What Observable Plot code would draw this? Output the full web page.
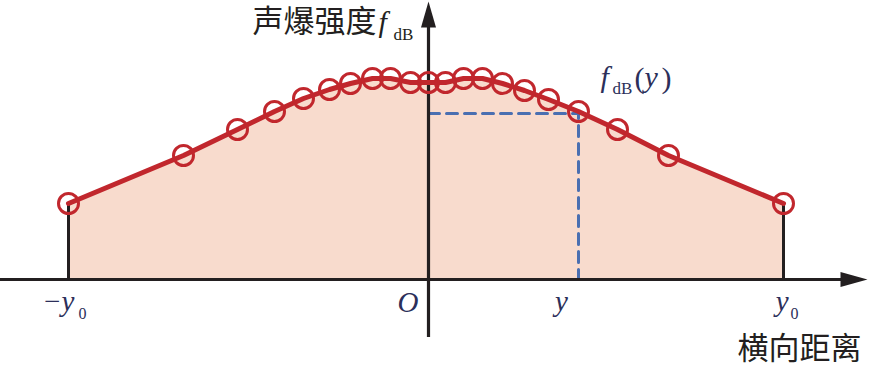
<!DOCTYPE html>
<html>
<head>
<meta charset="utf-8">
<script src="https://cdn.jsdelivr.net/npm/d3@7"></script>
<script src="https://cdn.jsdelivr.net/npm/@observablehq/plot@0.6"></script>
<style>
  html, body { margin: 0; padding: 0; background: #ffffff; }
  #chart svg { display: block; }
</style>
</head>
<body>
<div id="chart"></div>
<script>
// ---- data ----
const lateral = [-36.0, -24.5, -19.1, -15.4, -12.5, -9.9, -7.8, -5.6, -3.8, -1.8, 0, 1.7, 3.5, 5.4, 7.4, 9.6, 12.0, 15.0, 18.9, 24.0, 35.5];
const fdB     = [7.6, 12.4, 15.0, 16.8, 18.1, 19.0, 19.6, 20.1, 20.1, 19.7, 19.7, 19.7, 20.1, 20.1, 19.6, 18.9, 18.0, 16.8, 15.0, 12.4, 7.6];
const sampleY = 15.0;      // the lateral position "y"
const sampleF = 16.6;      // f_dB(y)
const xAxisExtent = [-42.8, 43.9];
const yAxisExtent = [-5.8, 27.8];
const yTitle = "声爆强度";
const xTitle = "横向距离";

const pts = lateral.map((x, i) => ({x, f: fdB[i]}));
const ends = [pts[0], pts[pts.length - 1]];

const RED = "#c1272d", FILL = "#f8dbcd", INK = "#231f20", NAVY = "#2c2f5a", BLUE = "#4a6fb1";
const SERIF = "'Liberation Serif', 'Times New Roman', serif";
const CJK = "'Noto Sans CJK SC', sans-serif";

const upHead = {draw(ctx) { ctx.moveTo(0, 0); ctx.lineTo(7.5, 26); ctx.lineTo(-7.5, 26); ctx.closePath(); }};
const rightHead = {draw(ctx) { ctx.moveTo(0, 0); ctx.lineTo(-27, 7.5); ctx.lineTo(-27, -7.5); ctx.closePath(); }};

const T = (text, x, y, o) => Plot.text([text], {x: () => x, y: () => y, text: d => d, ...o});
const math = {fontFamily: SERIF, fontStyle: "italic", fill: NAVY, fontSize: 29};
const sub = {fontFamily: SERIF, fill: NAVY, fontSize: 17, textAnchor: "start"};

const chart = Plot.plot({
  width: 883,
  height: 373,
  margin: 0,
  x: {domain: [-42.8, 45.5], axis: null},
  y: {domain: [-9.4, 27.9], axis: null},
  style: {background: "#ffffff", overflow: "visible"},
  marks: [
    Plot.areaY(pts, {x: "x", y: "f", fill: FILL}),
    Plot.line([{x: 0, f: sampleF}, {x: sampleY, f: sampleF}, {x: sampleY, f: 0}],
      {x: "x", y: "f", stroke: BLUE, strokeWidth: 3, strokeDasharray: "11,7"}),
    Plot.ruleX(ends, {x: "x", y1: 0, y2: "f", stroke: INK, strokeWidth: 3}),
    Plot.ruleY([0], {x1: xAxisExtent[0], x2: xAxisExtent[1] - 1, stroke: INK, strokeWidth: 3.2}),
    Plot.ruleX([0], {y1: yAxisExtent[0], y2: yAxisExtent[1] - 1, stroke: INK, strokeWidth: 3.2}),
    Plot.dot([{x: xAxisExtent[1], f: 0}], {x: "x", y: "f", symbol: rightHead, r: 5, fill: INK, stroke: "none"}),
    Plot.dot([{x: 0, f: yAxisExtent[1]}], {x: "x", y: "f", symbol: upHead, r: 5, fill: INK, stroke: "none"}),
    Plot.line(pts, {x: "x", y: "f", stroke: RED, strokeWidth: 5, strokeLinejoin: "round"}),
    Plot.dot(pts, {x: "x", y: "f", r: 10, stroke: RED, strokeWidth: 3, fill: "none"}),

    // y-axis title
    T(yTitle, 0, 25.7, {fontFamily: CJK, fontSize: 31, fill: INK, textAnchor: "end", dx: -52}),
    T("f", 0, 25.7, {fontFamily: SERIF, fontStyle: "italic", fontSize: 30, fill: INK, textAnchor: "start", dx: -50}),
    T("dB", 0, 25.7, {fontFamily: SERIF, fontSize: 17, fill: INK, textAnchor: "start", dx: -35, dy: 12}),

    // f_dB(y) label
    T("f", sampleY, sampleF, {...math, fontSize: 30, textAnchor: "start", dx: 22, dy: -36}),
    T("dB", sampleY, sampleF, {...sub, dx: 34, dy: -25}),
    T("(", sampleY, sampleF, {fontFamily: SERIF, fill: NAVY, fontSize: 30, textAnchor: "start", dx: 56, dy: -35}),
    T("y", sampleY, sampleF, {...math, fontSize: 30, textAnchor: "start", dx: 66, dy: -36}),
    T(")", sampleY, sampleF, {fontFamily: SERIF, fill: NAVY, fontSize: 30, textAnchor: "start", dx: 83, dy: -35}),

    // tick labels
    T("−y", ends[0].x, 0, {...math, textAnchor: "end", dx: 6, dy: 22}),
    T("0", ends[0].x, 0, {...sub, fontSize: 16, dx: 10, dy: 34}),
    T("O", 0, 0, {...math, textAnchor: "end", dx: -10, dy: 23}),
    T("y", sampleY, 0, {...math, textAnchor: "middle", dx: -17, dy: 22}),
    T("y", ends[1].x, 0, {...math, textAnchor: "end", dx: 5, dy: 22}),
    T("0", ends[1].x, 0, {...sub, fontSize: 16, dx: 7, dy: 34}),

    // x-axis title
    T(xTitle, xAxisExtent[1], 0, {fontFamily: CJK, fontSize: 31, fill: INK, textAnchor: "end", dx: -6, dy: 70})
  ]
});
document.getElementById("chart").appendChild(chart);
</script>
</body>
</html>
